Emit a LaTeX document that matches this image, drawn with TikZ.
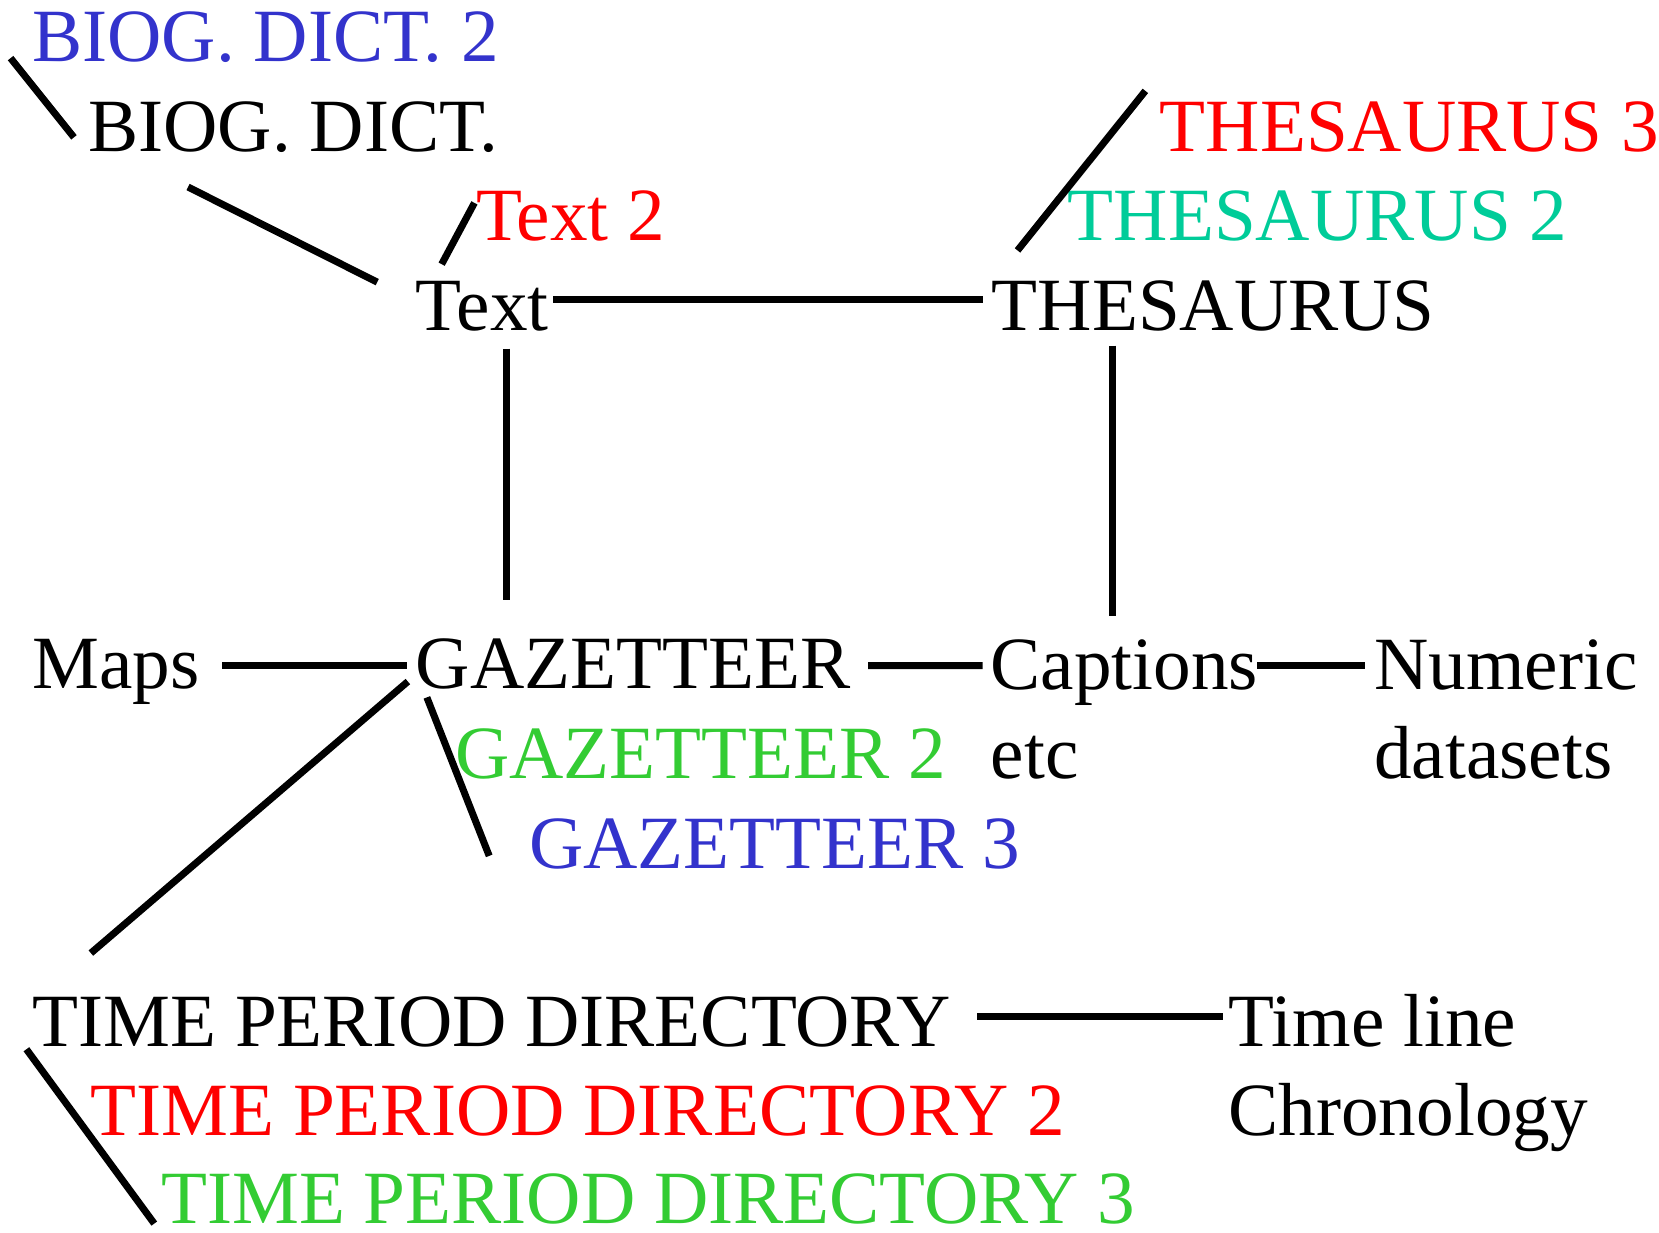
\documentclass[tikz,border=0pt]{standalone}
\usepackage{fontspec}
\setmainfont{Liberation Serif}
\definecolor{dictblue}{RGB}{51,51,204}
\definecolor{thesteal}{RGB}{0,204,153}
\definecolor{gazgreen}{RGB}{51,204,51}
\definecolor{textred}{RGB}{255,0,0}
\begin{document}
\begin{tikzpicture}[x=1.0566cm,y=1.0566cm,
  every node/.style={anchor=base west,inner sep=0pt,font=\fontsize{21.4}{25.4}\selectfont},
  link/.style={line width=2pt}]
  \useasboundingbox (0,0) rectangle (15.701,-11.660);
  \node[dictblue] (bd2) at (0.30,-0.58) {BIOG. DICT. 2};
  \node (bd1) at (0.83,-1.43) {BIOG. DICT.};
  \node[textred] (txt2) at (4.50,-2.28) {Text 2};
  \node (txt) at (3.93,-3.13) {Text};
  \node[textred] (th3) at (10.97,-1.43) {THESAURUS 3};
  \node[thesteal] (th2) at (10.10,-2.28) {THESAURUS 2};
  \node (th) at (9.38,-3.13) {THESAURUS};
  \node (maps) at (0.30,-6.52) {Maps};
  \node (gaz) at (3.93,-6.52) {GAZETTEER};
  \node[gazgreen] (gaz2) at (4.30,-7.37) {GAZETTEER 2};
  \node[dictblue] (gaz3) at (5.00,-8.22) {GAZETTEER 3};
  \node[align=left] (cap) at (9.37,-7.37) {Captions\\etc};
  \node[align=left] (num) at (13.00,-7.37) {Numeric\\datasets};
  \node (tpd) at (0.30,-9.90) {TIME PERIOD DIRECTORY};
  \node[textred] (tpd2) at (0.85,-10.75) {TIME PERIOD DIRECTORY 2};
  \node[gazgreen] (tpd3) at (1.52,-11.58) {TIME PERIOD DIRECTORY 3};
  \node[align=left] (tl) at (11.62,-10.75) {Time line\\Chronology};

  \draw[link] ([shift={(-0.20,0.03)}]bd2.base west) -- ([shift={(-0.13,0.13)}]bd1.base west);
  \draw[link] ([shift={(0.95,-0.34)}]bd1.base west) -- ([shift={(-0.36,0.46)}]txt.base west);
  \draw[link] ([shift={(-0.01,0.36)}]txt2.base west) -- ([shift={(0.25,0.63)}]txt.base west);
  \draw[link] ([shift={(0.04,0.30)}]txt.base east) -- ([shift={(-0.08,0.30)}]th.base west);
  \draw[link] ([shift={(0.25,0.76)}]th.base west) -- ([shift={(-0.13,0.57)}]th3.base west);
  \draw[link] ([shift={(0.86,-0.17)}]txt.base west) -- ([shift={(0.86,0.84)}]gaz.base west);
  \draw[link] ([shift={(1.15,-0.14)}]th.base west) -- ([shift={(1.16,1.54)}]cap.base west);
  \draw[link] ([shift={(0.21,0.22)}]maps.base east) -- ([shift={(-0.08,0.22)}]gaz.base west);
  \draw[link] ([shift={(0.16,0.22)}]gaz.base east) -- ([shift={(-0.07,1.07)}]cap.base west);
  \draw[link] ([shift={(2.53,1.07)}]cap.base west) -- ([shift={(-0.08,1.07)}]num.base west);
  \draw[link] ([shift={(-0.07,0.07)}]gaz.base west) -- ([shift={(0.56,0.88)}]tpd.base west);
  \draw[link] ([shift={(0.11,-0.08)}]gaz.base west) -- ([shift={(-0.37,0.12)}]gaz3.base west);
  \draw[link] ([shift={(0.25,0.28)}]tpd.base east) -- ([shift={(-0.05,1.13)}]tl.base west);
  \draw[link] ([shift={(-0.05,-0.03)}]tpd.base west) -- ([shift={(-0.06,0.00)}]tpd3.base west);
\end{tikzpicture}
\end{document}
